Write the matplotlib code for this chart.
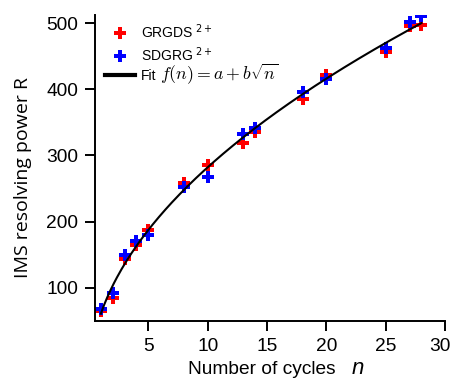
import numpy as np
import matplotlib.pyplot as plt
from matplotlib.transforms import ScaledTranslation

plt.rcParams['font.family'] = ['Liberation Sans', 'DejaVu Sans']
plt.rcParams['mathtext.fontset'] = 'cm'

# number of cycles
n_cycles = np.array([1, 2, 3, 4, 5, 8, 10, 13, 14, 18, 20, 25, 27, 28])

# resolving power
R_grgds = np.array([65, 85, 143, 164, 188, 258, 286, 319, 335, 386, 421, 457, 495, 497])
R_sdgrg = np.array([68, 92, 150, 170, 180, 252, 268, 332, 341, 396, 415, 463, 502, 511])

# fit R = a + b*sqrt(n) on both series
x_all = np.sqrt(np.concatenate([n_cycles, n_cycles]))
y_all = np.concatenate([R_grgds, R_sdgrg])
b, a = np.polyfit(x_all, y_all, 1)
n_fit = np.linspace(1, 28, 200)
R_fit = a + b * np.sqrt(n_fit)

fig = plt.figure(figsize=(4.52, 3.78), dpi=100)
ax = fig.add_axes([0.210, 0.151, 0.775, 0.809])

ax.plot(n_cycles, R_grgds, 'P', color='#ff0000', markersize=8, markeredgewidth=0,
        label='GRGDS $^{2+}$')
ax.plot(n_cycles, R_sdgrg, 'P', color='#0000ff', markersize=8, markeredgewidth=0,
        label='SDGRG $^{2+}$')
ax.plot(n_fit, R_fit, '-', color='black', lw=1.5, zorder=5, label='Fit')

ax.set_xlim(0.5, 30)
ax.set_ylim(50, 512)
ax.set_xticks([5, 10, 15, 20, 25, 30])
ax.set_yticks([100, 200, 300, 400, 500])

for s in ['top', 'right']:
    ax.spines[s].set_visible(False)
for s in ['left', 'bottom']:
    ax.spines[s].set_linewidth(1.4)
ax.tick_params(direction='out', length=7, width=1.4, labelsize=13.8, pad=5)

# nudge the last x label so it stays inside the figure
lab30 = ax.get_xticklabels()[-1]
lab30.set_transform(lab30.get_transform() + ScaledTranslation(-0.05, 0, fig.dpi_scale_trans))

ax.set_ylabel('IMS resolving power R', fontsize=14, family=['Open Sans', 'DejaVu Sans'])
ax.yaxis.set_label_coords(-0.18, 0.47)
ax.set_xlabel('Number of cycles', fontsize=13.8)
ax.xaxis.set_label_coords(0.476, -0.132)
# italic n after the x label
ax.annotate('n', xy=(0.75, 0), xycoords='axes fraction', xytext=(0, -38),
            textcoords='offset points', fontsize=16, fontstyle='italic',
            ha='center', va='baseline', annotation_clip=False)

leg = ax.legend(loc='upper left', bbox_to_anchor=(0.0, 1.01), frameon=False,
                fontsize=10, handlelength=2.1, handletextpad=0.45,
                labelspacing=0.32, borderaxespad=0.35)
for t in leg.get_texts()[:2]:
    t.set_math_fontfamily('dejavusans')
for h in leg.legend_handles[2:]:
    h.set_linewidth(3)

# the fit formula, drawn larger right after "Fit"
fig.canvas.draw()
bb = leg.get_texts()[2].get_window_extent()
fig.text(bb.x1 + 4, bb.y0 + 3, r'$f(n) = a + b\sqrt{n}$', fontsize=12.8,
         va='baseline', ha='left', transform=None)

fig.savefig('out.png', dpi=100)
